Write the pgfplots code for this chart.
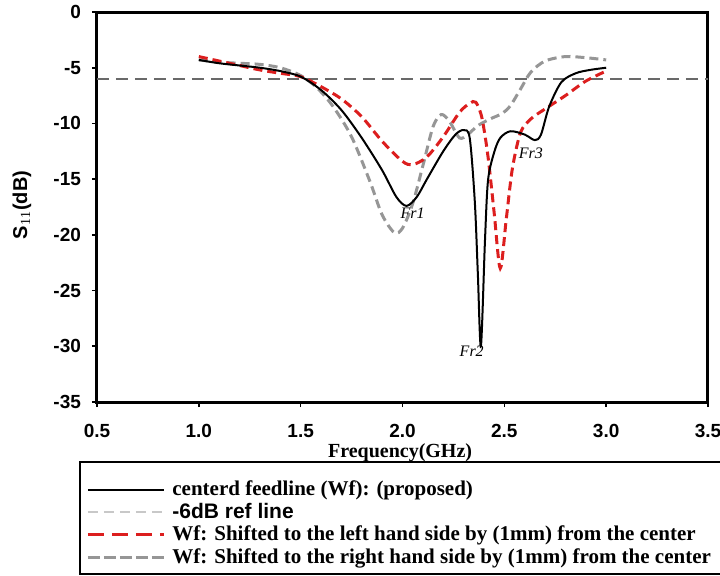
\documentclass[border=0pt]{standalone}
\usepackage{fontspec}
\setmainfont{Liberation Serif}
\setsansfont{Liberation Sans}
\usepackage{pgfplots}
\pgfplotsset{compat=1.18}
\definecolor{refgray}{RGB}{105,105,105}
\definecolor{lightref}{RGB}{200,200,200}
\definecolor{rgray}{RGB}{150,150,150}
\definecolor{lred}{RGB}{220,30,30}

\begin{document}
\begin{tikzpicture}
\useasboundingbox (0,0) rectangle (360pt,287.5pt);
\begin{axis}[
    at={(48.5pt,86.5pt)}, anchor=south west,
    scale only axis,
    width=305.5pt, height=195pt,
    xmin=0.5, xmax=3.5,
    ymin=-35, ymax=0,
    xtick={0.5,1,...,3.5},
    ytick={-35,-30,...,0},
    xticklabel style={/pgf/number format/.cd, fixed, fixed zerofill, precision=1, /tikz/.cd, yshift=-5pt},
    yticklabel style={xshift=-2pt},
    /pgf/number format/assume math mode=true,
    ticklabel style={font=\sffamily\bfseries\fontsize{9.5}{10}\selectfont},
    tick align=outside,
    xtick pos=bottom, ytick pos=left,
    major tick length=2.5pt,
    tick style={line width=0.8pt, black},
    axis line style={line width=1.5pt},
    xlabel={Frequency(GHz)},
    xlabel style={font=\bfseries\fontsize{10}{11}\selectfont, at={(axis description cs:0.496,-0.131)}, anchor=center},
    ylabel={S$_{\mathrm{11}}$(dB)},
    ylabel style={font=\sffamily\bfseries\fontsize{10}{11}\selectfont, at={(axis description cs:-0.123,0.505)}, anchor=center},
    legend style={draw=none, fill=none, at={(axis description cs:-0.0278,-0.185)}, anchor=north west,
      font=\bfseries\fontsize{10.5}{11}\selectfont, row sep=0pt,
      nodes={inner sep=0pt, minimum height=11.25pt}, column sep=3.5pt},
    legend cell align=left,
    legend image code/.code={\draw[#1] (0pt,0pt) -- (38pt,0pt);},
  ]

  % -6 dB reference line
  \addplot[refgray, line width=1pt, dash pattern=on 6pt off 3.5pt, forget plot] coordinates {(0.5,-6) (3.5,-6)};

  % right-shifted feedline (gray dashed)
  \addplot[rgray, line width=1.5pt, dash pattern=on 4.5pt off 2.5pt, smooth, tension=0.5, forget plot] coordinates {
    (1.00,-4.3) (1.10,-4.5) (1.20,-4.6) (1.30,-4.7) (1.40,-5.0) (1.50,-5.7)
    (1.58,-6.8) (1.66,-8.5) (1.75,-11.2) (1.84,-15.2) (1.90,-18.2) (1.96,-19.8)
    (2.00,-19.4) (2.05,-17.2) (2.10,-13.8) (2.15,-10.3) (2.19,-9.2) (2.23,-9.8)
    (2.28,-11.3) (2.32,-11.0) (2.37,-10.2) (2.43,-9.6) (2.49,-9.1) (2.53,-8.4)
    (2.58,-6.9) (2.63,-5.4) (2.70,-4.4) (2.80,-4.0) (2.90,-4.1) (3.00,-4.3)
  };

  % left-shifted feedline (red dashed)
  \addplot[lred, line width=1.5pt, dash pattern=on 4.5pt off 2.5pt, smooth, tension=0.5, forget plot] coordinates {
    (1.00,-4.0) (1.10,-4.4) (1.20,-4.8) (1.30,-5.2) (1.40,-5.5) (1.50,-5.8)
    (1.60,-6.7) (1.70,-7.8) (1.80,-9.4) (1.90,-11.6) (2.00,-13.4) (2.05,-13.7)
    (2.12,-13.0) (2.20,-11.2) (2.28,-9.0) (2.33,-8.2) (2.36,-8.1) (2.39,-9.5)
    (2.42,-13) (2.45,-18) (2.48,-23) (2.51,-18.5) (2.54,-14) (2.58,-10.8)
    (2.63,-9.6) (2.70,-8.7) (2.80,-7.5) (2.90,-6.2) (3.00,-5.3)
  };

  % centered feedline (proposed)
  \addplot[black, line width=1pt, smooth, tension=0.5] coordinates {
    (1.00,-4.3) (1.10,-4.6) (1.20,-4.8) (1.30,-5.0) (1.40,-5.3) (1.50,-5.8)
    (1.60,-7.0) (1.70,-8.8) (1.80,-11.3) (1.90,-14.2) (1.97,-16.6) (2.02,-17.4)
    (2.07,-16.6) (2.12,-15.0) (2.20,-12.5) (2.26,-11.0) (2.30,-10.6) (2.33,-11.3)
    (2.355,-17.0) (2.37,-23.5) (2.385,-30.0) (2.405,-20.5) (2.42,-15.1) (2.45,-12.6)
    (2.48,-11.3) (2.53,-10.7) (2.60,-11.0) (2.65,-11.5) (2.68,-11.0) (2.72,-8.5)
    (2.78,-6.3) (2.85,-5.5) (2.92,-5.2) (3.00,-5.0)
  };
  \addlegendentry{centerd feedline (Wf): (proposed)}
  \addlegendimage{lightref, line width=1pt, dash pattern=on 5pt off 3pt}
  \addlegendentry{\sffamily\bfseries -6dB ref line}
  \addlegendimage{lred, line width=1.5pt, dash pattern=on 8pt off 4pt}
  \addlegendentry{Wf: Shifted to the left hand side by (1mm) from the center}
  \addlegendimage{rgray, line width=1.5pt, dash pattern=on 6pt off 2pt}
  \addlegendentry{Wf: Shifted to the right hand side by (1mm) from the center}

  \node[font=\itshape\fontsize{8}{9}\selectfont] at (axis cs:2.05,-18.1) {Fr1};
  \node[font=\itshape\fontsize{8}{9}\selectfont] at (axis cs:2.34,-30.4) {Fr2};
  \node[font=\itshape\fontsize{8}{9}\selectfont] at (axis cs:2.63,-12.7) {Fr3};
\end{axis}
\draw[line width=0.8pt] (40pt,0.5pt) rectangle (362pt,56.5pt);
\end{tikzpicture}
\end{document}
